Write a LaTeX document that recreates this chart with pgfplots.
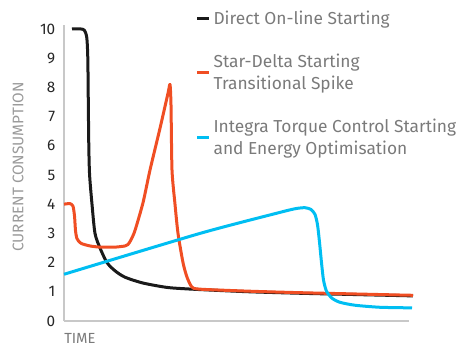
\documentclass[border=0pt]{standalone}
\usepackage{fontspec}
\setmainfont{Fira Sans}
\usepackage{pgfplots}
\pgfplotsset{compat=1.18}
\definecolor{cblack}{HTML}{1A1A1A}
\definecolor{corange}{HTML}{F04E23}
\definecolor{cblue}{HTML}{00BEF2}
\definecolor{axgray}{HTML}{C8C8C8}
\definecolor{txgray}{HTML}{7A7A7A}
\definecolor{lblgray}{HTML}{9A9A9A}
\begin{document}
\begin{tikzpicture}
\begin{axis}[
  at={(0,0)}, anchor=south west,
  scale only axis, width=258.75pt, height=222.3pt,
  xmin=64, xmax=409, ymin=0, ymax=10.15,
  clip=false,
  axis x line*=bottom, axis y line*=left,
  axis line style={axgray, line width=0.8pt, -},
  xtick=\empty,
  ytick={0,1,...,10},
  major tick length=0pt,
  yticklabel style={font=\fontsize{11.5}{13}\selectfont, text=black!85, xshift=-3pt},
  /pgf/number format/assume math mode=true,
  xlabel={TIME},
  xlabel style={at={(rel axis cs:0,0)}, anchor=north west, font=\fontsize{11}{13}\selectfont, text=txgray, yshift=-6pt, inner xsep=0pt},
  ylabel={CURRENT CONSUMPTION},
  ylabel style={at={(rel axis cs:0,0.52)}, anchor=center, yshift=34.5pt, font=\fontsize{11.5}{13}\selectfont, text=lblgray},
  legend style={draw=none, fill=none, at={(rel axis cs:0.37,1.065)}, anchor=north west,
    font=\fontsize{13}{16}\selectfont, text=txgray, row sep=17pt,
    cells={anchor=west, align=left}},
  legend image code/.code={\draw[#1, line width=2.25pt] (0pt,0pt) -- (9pt,0pt);},
  every axis plot/.append style={line width=2.25pt, line join=round},
]
\addplot[cblack, smooth, tension=0.45] coordinates {
(72,10.0)(81,10.0)(84.5,9.95)(86.8,9.7)(87.8,9.0)(88.3,7.5)(88.8,6.0)(89.6,5.0)(92,4.0)(95,3.0)(100,2.5)(107,2.0)(115,1.72)(125,1.5)(143,1.3)(167,1.15)(187,1.1)(210,1.06)(250,1.0)(300,0.95)(350,0.91)(413,0.86)
};
\addlegendentry{Direct On-line Starting}
\addplot[corange, smooth, tension=0.4] coordinates {
(64,4.0)(70,4.02)(73,3.93)(74.5,3.6)(75.5,3.1)(77,2.82)(81,2.66)(90,2.57)(100,2.53)(115,2.53)(125,2.57)(128,2.62)(131,2.78)(135,3.1)(143,4.05)(150,5.17)(160,6.6)(168,7.8)(170,8.1)(171,7.4)(172,5.17)(175,4.0)(178,3.0)(183,2.0)(187,1.5)(192,1.16)(200,1.09)(250,1.02)(300,0.97)(350,0.93)(413,0.88)
};
\addlegendentry{Star-Delta Starting\\Transitional Spike}
\addplot[cblue, smooth, tension=0.4] coordinates {
(64,1.6)(200,3.0)(280,3.72)(296,3.85)(305,3.88)(311,3.82)(315,3.65)(317.5,3.3)(319.5,2.7)(321.5,2.0)(323.5,1.4)(326.5,1.02)(332,0.78)(340,0.64)(355,0.54)(380,0.47)(412,0.45)
};
\addlegendentry{Integra Torque Control Starting\\and Energy Optimisation}
\end{axis}
\path[use as bounding box] (-48pt,-24.75pt) rectangle (299.25pt,240.75pt);
\end{tikzpicture}
\end{document}
